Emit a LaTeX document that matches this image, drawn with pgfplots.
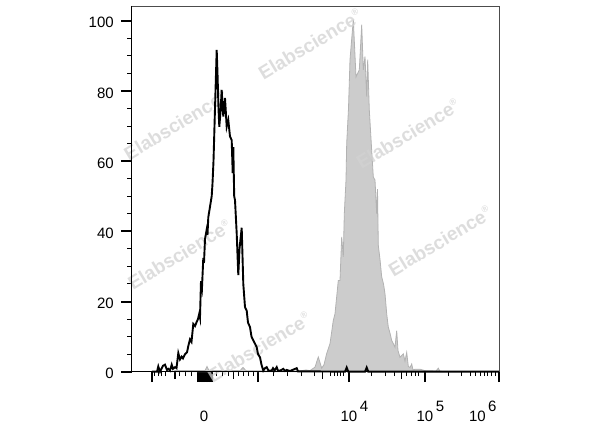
\documentclass[border=0pt]{standalone}
\usepackage{pgfplots}
\pgfplotsset{compat=1.18}
\usepackage{fontspec}
\setmainfont{Liberation Sans}
\definecolor{fillgray}{RGB}{204,204,204}
\definecolor{edgegray}{RGB}{178,178,178}
\definecolor{wm}{RGB}{210,210,210}
\newcommand{\tl}[2]{\rlap{\hspace*{#1}10\hspace{2.5pt}\raisebox{10.5pt}{#2}}}
\newcommand{\wmark}[1]{\node[rotate=31, text=wm, opacity=0.75, inner sep=0pt,
  font=\bfseries\fontsize{19}{19}\selectfont] at (#1) {Elabscience\rlap{\raisebox{8pt}{\fontsize{9}{9}\selectfont\textregistered}}};}

\pgfplotstableread{
x y
-32 0
-29 0.3
1 0.3
3 1.5
5 0.3
36 0.3
39 1.2
42 0.3
66 0.2
96 0.2
102 0.5
106 0.3
111 1.3
114.3 4.2
117.7 1
120 2
122.7 5.2
126 8
129.3 14.6
131 16.5
134.3 26
136 26
137.7 38.4
139.3 32.7
140.3 45
142 54.6
142.7 65
144.5 75
146 88.9
149.3 100.3
152 84
155.3 86
157.7 98.9
159.3 86
161 89.8
162.7 78.4
163.7 88.9
165.3 74.6
167.7 63
169.3 55.5
171 54.6
172.7 45
173.5 52
174.3 36
176 32
177.7 27
179.5 25
181 22.2
182.7 16.5
184.3 12.7
186 11
187.7 8.9
191 7
192.7 11.7
194 6
196 4.1
199.3 5.1
201 3
202.7 5.5
204.3 1.5
206 1.2
207.7 2.2
209 0.5
211 0.7
216 0.7
221 0.3
232 0.2
234.3 1
236 0.1
246 0
}\stained

\pgfplotstableread{
x y
-52 0
-47 0
-45.7 1.5
-44 0
-41 1.7
-39 2
-37 0.5
-35.7 0.8
-34 0.3
-32.3 2
-31 0.8
-29 1.3
-27.5 1
-25.7 5.3
-24 3.5
-22.3 4.3
-21 3.8
-19 5
-17 5.5
-15.7 7.3
-14 9.2
-12.5 8.5
-10.7 13.6
-9 13
-7.3 14.2
-6 15
-4.7 16.6
-4 15.5
-3 25.8
-2 24
-0.7 32.4
0 31
1 37.8
2.7 40.5
3.5 39
4.3 44
6 47
7.7 50
8.5 53.6
9.5 60
11 75
12.7 91.7
13.5 85
14.5 75
15.3 69.8
16.5 74
17.7 80.3
18.5 76
19.3 72.7
21 78
22.7 69.8
24.3 71.7
26 67
27.7 66
28.7 56.6
29.3 64
30.2 50
31 48.9
32.7 39.4
34.3 27.5
35.5 35
37.7 41
39.3 25
41 18.4
42.7 17.4
44 14
46 12.7
47.5 10
49.3 8.9
51 8
52.7 7
54 5
56 4.1
57.5 2
59.3 0.3
61 1
62.7 1.3
64.5 0.3
67.7 0.3
69 1
70.5 0.3
72.7 1.3
74 0.3
76 0.3
79.3 0.8
81 0.2
82.7 0.5
86 0.2
92.7 1
94 0.1
106 0.1
141 0
142.7 1.2
144.3 0
161 0
162.7 1.2
164.3 0
295 0
}\control

\begin{document}
\begin{tikzpicture}
\useasboundingbox (-131.7pt,-55.3pt) rectangle (468.3pt,371.7pt);
\begin{axis}[
  at={(0pt,0pt)}, anchor=south west,
  scale only axis, width=367.3pt, height=365.7pt,
  xmin=-72.3, xmax=295, ymin=0, ymax=104.2,
  clip=false,
  axis line style={draw=black!70, line width=0.8pt},
  tick align=outside,
  xtick pos=bottom, ytick pos=left,
  major tick length=10.5pt, minor tick length=4.5pt,
  major tick style={line width=2pt, black},
  minor tick style={line width=1pt, black},
  xtick={-52.3,-5.7,-4,-2.3,-0.7,0,1,2.7,4.3,6,7.7,54.3,145,221,295},
  xticklabels={,,,,,0,,,,,,,\tl{-8.35pt}{4},\tl{-8.35pt}{5},\tl{-30pt}{6}},
  minor xtick={-49,-45.7,-42.3,-38,-24,-18,-12.3,12.7,18.7,24.3,34.3,39.3,44.3,49.3,69.3,83.3,97.7,110,126,130.3,133.7,136.7,139.3,167.7,181,190,202.7,207.7,211,214.3,244.3,257.7,266,271,276,280,283.3,287.7,291},
  extra x ticks={-29,29.3,118.7,197.7},
  extra x tick labels={},
  extra x tick style={major tick length=7.5pt, major tick style={line width=1.2pt, black}},
  ytick={0,20,40,60,80,100},
  minor ytick={5,10,15,25,30,35,45,50,55,65,70,75,85,90,95},
  tick label style={font=\fontsize{15}{18}\selectfont, inner sep=0pt},
  /pgf/number format/assume math mode=true,
  xticklabel style={anchor=base, yshift=-39.5pt},
  yticklabel style={anchor=east, xshift=-7.3pt, yshift=-2pt},
]
\addplot[fill=fillgray, draw=edgegray, line width=0.8pt] table[x=x,y=y] {\stained} \closedcycle;
\wmark{axis cs:-31.4,69.8}
\wmark{axis cs:103,92.8}
\wmark{axis cs:-27.5,32.9}
\wmark{axis cs:201,67.3}
\wmark{axis cs:233,36.7}
\wmark{axis cs:52,6.5}
\addplot[black, line width=1.9pt] table[x=x,y=y] {\control};
\draw[black, line width=1.6pt] (rel axis cs:0,1) -- (rel axis cs:0,0) -- (rel axis cs:1,0);
\end{axis}
\end{tikzpicture}
\end{document}
